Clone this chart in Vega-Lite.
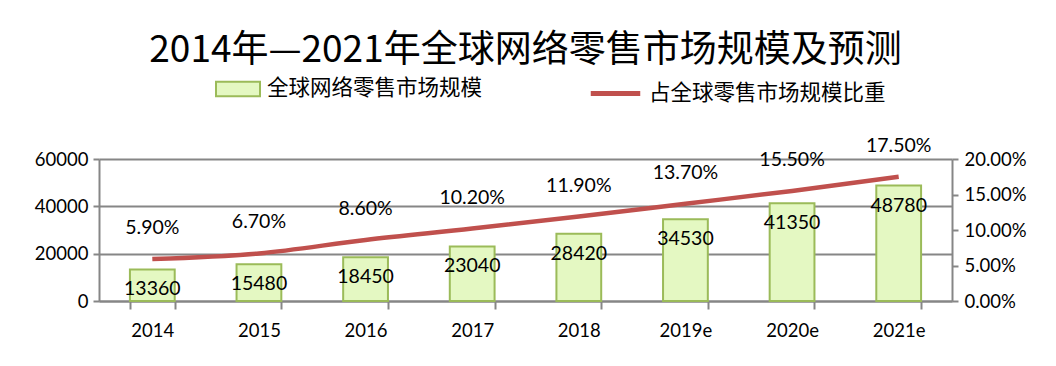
{
  "$schema": "https://vega.github.io/schema/vega-lite/v6.json",
  "autosize": "none",
  "width": 853,
  "height": 142,
  "padding": {"left": 99, "top": 159, "right": 104, "bottom": 65},
  "background": "white",
  "title": {
    "text": "2014年—2021年全球网络零售市场规模及预测",
    "font": "Noto Sans CJK SC",
    "fontSize": 37,
    "fontWeight": "normal",
    "color": "black",
    "anchor": "middle",
    "offset": -4
  },
  "data": {
    "values": [
      {"year": "2014", "size": 13360, "share": 0.059},
      {"year": "2015", "size": 15480, "share": 0.067},
      {"year": "2016", "size": 18450, "share": 0.086},
      {"year": "2017", "size": 23040, "share": 0.102},
      {"year": "2018", "size": 28420, "share": 0.119},
      {"year": "2019e", "size": 34530, "share": 0.137},
      {"year": "2020e", "size": 41350, "share": 0.155},
      {"year": "2021e", "size": 48780, "share": 0.175}
    ]
  },
  "encoding": {
    "x": {
      "field": "year",
      "type": "ordinal",
      "sort": null,
      "scale": {"paddingInner": 0.58, "paddingOuter": 0.29},
      "axis": {
        "title": null,
        "labelAngle": 0,
        "labelFont": "Lato",
        "labelFontSize": 18.5,
        "labelColor": "black",
        "labelPadding": 12,
        "domainColor": "#868686",
        "domainWidth": 2,
        "tickColor": "#868686",
        "tickWidth": 2,
        "tickSize": 8,
        "tickBand": "extent"
      }
    }
  },
  "layer": [
    {
      "mark": {
        "type": "bar",
        "color": {
          "gradient": "linear",
          "x1": 0, "y1": 0, "x2": 0, "y2": 1,
          "stops": [
            {"offset": 0, "color": "#f4fde6"},
            {"offset": 1, "color": "#d6f6a4"}
          ]
        },
        "stroke": "#9bbb59",
        "strokeWidth": 2
      },
      "encoding": {
        "y": {
          "field": "size",
          "type": "quantitative",
          "scale": {"domain": [0, 60000]},
          "axis": {
            "title": null,
            "values": [0, 20000, 40000, 60000],
            "format": "d",
            "labelFont": "Lato",
            "labelFontSize": 18.5,
            "labelColor": "black",
            "labelPadding": 5,
            "grid": true,
            "gridColor": "#868686",
            "gridWidth": 2,
            "domainColor": "#868686",
            "domainWidth": 2,
            "tickColor": "#868686",
            "tickWidth": 2,
            "tickSize": 6
          }
        },
        "fill": {
          "datum": "全球网络零售市场规模",
          "type": "nominal",
          "scale": {"range": ["#e4f8c2"]},
          "legend": {
            "orient": "none",
            "legendX": 116,
            "legendY": -93,
            "title": null,
            "symbolType": "M-1,-0.33H1V0.33H-1Z",
            "symbolSize": 1936,
            "symbolStrokeColor": "#9bbb59",
            "symbolStrokeWidth": 2,
            "labelFont": "Noto Sans CJK SC",
            "labelFontSize": 21.5,
            "labelLimit": 0,
            "labelColor": "black",
            "labelOffset": 6
          }
        }
      }
    },
    {
      "mark": {
        "type": "text",
        "font": "Lato",
        "fontSize": 19.5,
        "color": "black",
        "baseline": "middle",
        "dy": 20
      },
      "encoding": {
        "y": {"field": "size", "type": "quantitative", "scale": {"domain": [0, 60000]}, "axis": null},
        "text": {"field": "size", "type": "quantitative", "format": "d"}
      }
    },
    {
      "mark": {"type": "line", "color": "#c0504d", "strokeWidth": 4.5, "interpolate": "monotone"},
      "encoding": {
        "y": {
          "field": "share",
          "type": "quantitative",
          "scale": {"domain": [0, 0.2]},
          "axis": {
            "orient": "right",
            "title": null,
            "values": [0, 0.05, 0.1, 0.15, 0.2],
            "format": ".2%",
            "labelFont": "Lato",
            "labelFontSize": 18.5,
            "labelColor": "black",
            "labelPadding": 6,
            "grid": false,
            "domainColor": "#868686",
            "domainWidth": 2,
            "tickColor": "#868686",
            "tickWidth": 2,
            "tickSize": 6
          }
        },
        "stroke": {
          "datum": "占全球零售市场规模比重",
          "type": "nominal",
          "scale": {"range": ["#c0504d"]},
          "legend": {
            "orient": "none",
            "legendX": 489,
            "legendY": -93,
            "title": null,
            "symbolType": "stroke",
            "symbolSize": 2450,
            "symbolStrokeWidth": 5,
            "labelFont": "Noto Sans CJK SC",
            "labelFontSize": 21.5,
            "labelLimit": 0,
            "labelColor": "black",
            "labelOffset": 6
          }
        }
      }
    },
    {
      "mark": {
        "type": "text",
        "font": "Lato",
        "fontSize": 19.5,
        "color": "black",
        "baseline": "middle",
        "dy": -31
      },
      "encoding": {
        "y": {"field": "share", "type": "quantitative", "scale": {"domain": [0, 0.2]}, "axis": null},
        "text": {"field": "share", "type": "quantitative", "format": ".2%"}
      }
    }
  ],
  "resolve": {"scale": {"y": "independent", "fill": "independent", "stroke": "independent"}},
  "config": {
    "view": {"stroke": null},
    "axisX": {"grid": false}
  }
}
